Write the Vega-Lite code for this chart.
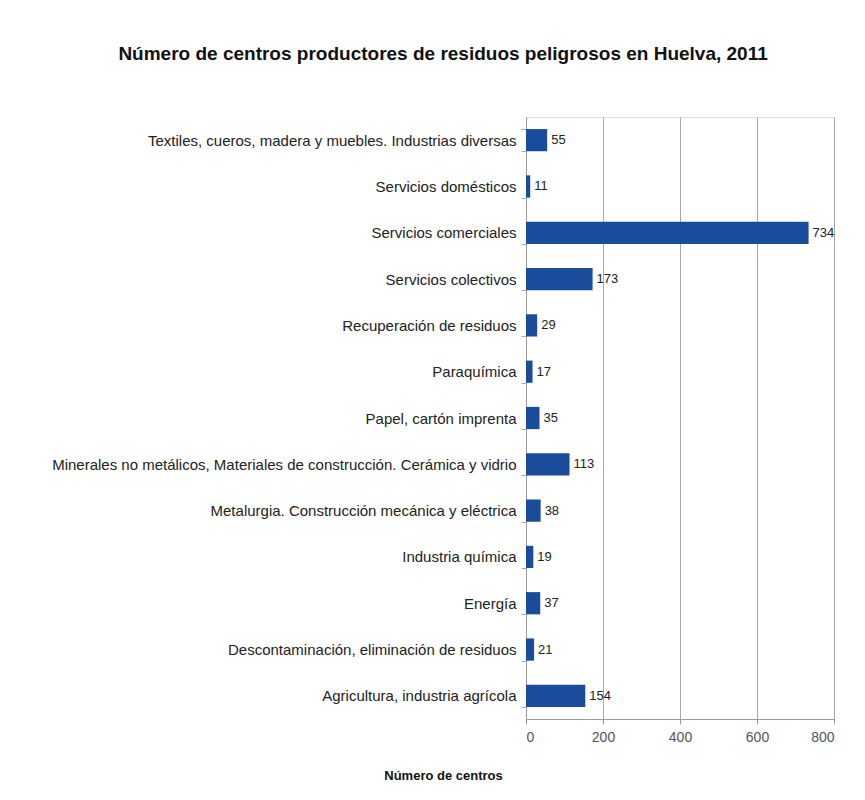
{
  "$schema": "https://vega.github.io/schema/vega-lite/v6.json",
  "width": 308,
  "height": 602,
  "autosize": {"type": "none"},
  "padding": {"left": 526, "top": 117, "right": 31, "bottom": 81},
  "background": "white",
  "title": {
    "text": "Número de centros productores de residuos peligrosos en Huelva, 2011",
    "font": "Liberation Sans",
    "fontSize": 19,
    "fontWeight": "bold",
    "color": "#111111",
    "anchor": "middle",
    "frame": "bounds",
    "offset": 46
  },
  "data": {
    "values": [
      {"sector": "Textiles, cueros, madera y muebles. Industrias diversas", "centros": 55},
      {"sector": "Servicios domésticos", "centros": 11},
      {"sector": "Servicios comerciales", "centros": 734},
      {"sector": "Servicios colectivos", "centros": 173},
      {"sector": "Recuperación de residuos", "centros": 29},
      {"sector": "Paraquímica", "centros": 17},
      {"sector": "Papel, cartón imprenta", "centros": 35},
      {"sector": "Minerales no metálicos, Materiales de construcción. Cerámica y vidrio", "centros": 113},
      {"sector": "Metalurgia. Construcción mecánica y eléctrica", "centros": 38},
      {"sector": "Industria química", "centros": 19},
      {"sector": "Energía", "centros": 37},
      {"sector": "Descontaminación, eliminación de residuos", "centros": 21},
      {"sector": "Agricultura, industria agrícola", "centros": 154}
    ]
  },
  "encoding": {
    "y": {
      "field": "sector",
      "type": "nominal",
      "sort": null,
      "scale": {"paddingInner": 0.52, "paddingOuter": 0.26},
      "axis": {
        "title": null,
        "labelFont": "Liberation Sans",
        "labelFontSize": 15,
        "labelColor": "#222222",
        "labelLimit": 600,
        "labelPadding": 5,
        "tickBand": "extent",
        "tickColor": "#aaaaaa",
        "tickSize": 5,
        "domainColor": "#999999",
        "grid": false
      }
    },
    "x": {
      "field": "centros",
      "type": "quantitative",
      "scale": {"domain": [0, 800], "nice": false},
      "axis": {
        "values": [0, 200, 400, 600, 800],
        "title": "Número de centros",
        "titleFont": "Liberation Sans",
        "titleFontSize": 13,
        "titleFontWeight": "bold",
        "titleColor": "#111111",
        "titleX": -83,
        "titleY": 50,
        "titleAnchor": "middle",
        "titleAlign": "center",
        "labelFont": "Liberation Sans",
        "labelFontSize": 14,
        "labelColor": "#555555",
        "labelPadding": 6,
        "tickColor": "#999999",
        "tickSize": 5,
        "domainColor": "#999999",
        "gridColor": "#a8a8a8",
        "grid": true
      }
    }
  },
  "layer": [
    {"mark": {"type": "bar", "color": "#1b4b9b"}},
    {
      "mark": {"type": "text", "align": "left", "dx": 4, "font": "Liberation Sans", "fontSize": 13, "color": "#222222"},
      "encoding": {"text": {"field": "centros", "type": "quantitative"}}
    }
  ],
  "config": {
    "view": {"stroke": "#dddddd"}
  }
}
